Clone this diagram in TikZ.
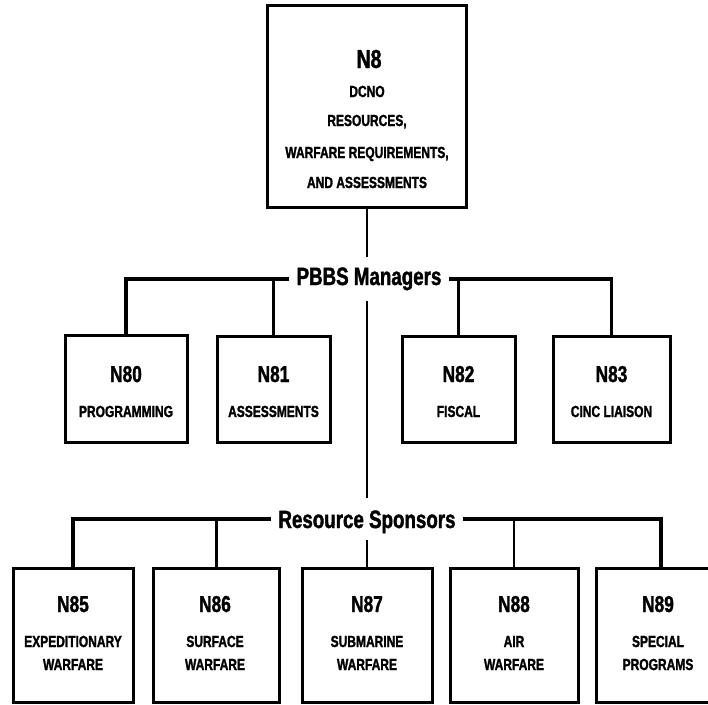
\documentclass[tikz,border=0pt]{standalone}
\usepackage{fontspec}
\newfontfamily\cf{Liberation Sans}[FakeStretch=0.75, BoldFeatures={FakeBold=1.5}]
\begin{document}
\begin{tikzpicture}[x=1pt,y=-1pt,
  box/.style={draw=black, line width=3pt, fill=white, inner sep=0pt},
  bar/.style={line width=3.5pt},
  drop/.style={line width=2.4pt},
  hd/.style={anchor=base, inner sep=0pt, font={\cf\bfseries\fontsize{23pt}{23pt}\selectfont}},
  sm/.style={anchor=base, inner sep=0pt, font={\cf\bfseries\fontsize{16pt}{16pt}\selectfont}},
  ttl/.style={fill=white, inner xsep=7pt, text height=18pt, font={\cf\bfseries\fontsize{25pt}{25pt}\selectfont}}
]
\useasboundingbox (0,0) rectangle (708,704);
\fill[white] (0,0) rectangle (708,704);
\clip (0,0) rectangle (708,704);

% boxes
\node[box, minimum width=199pt, minimum height=202pt] (top) at (367,106) {};
\node[box, minimum width=122pt, minimum height=107pt] (n80) at (126,388.5) {};
\node[box, minimum width=113pt, minimum height=106pt] (n81) at (273.5,389) {};
\node[box, minimum width=113pt, minimum height=106pt] (n82) at (458.5,389) {};
\node[box, minimum width=117pt, minimum height=106pt] (n83) at (611.5,389) {};
\node[box, minimum width=120pt, minimum height=134pt] (n85) at (73,635) {};
\node[box, minimum width=126pt, minimum height=134pt] (n86) at (216.5,635) {};
\node[box, minimum width=130pt, minimum height=134pt] (n87) at (367,635) {};
\node[box, minimum width=128pt, minimum height=134pt] (n88) at (514,635) {};
\node[box, minimum width=130pt, minimum height=134pt] (n89) at (661,635) {};

% central trunk (covered by the title labels)
\draw[drop] (top.south) -- (n87.north);

% titles
\node[ttl, text depth=6pt, inner ysep=10pt] (pbbs) at (369,279) {PBBS Managers};
\node[ttl, text depth=0pt, inner ysep=12pt] (rs) at (367,519) {Resource Sponsors};

% connectors
\draw[bar] (n80.north) |- (pbbs.west);
\draw[bar] (n83.north) |- (pbbs.east);
\draw[drop] (n81.north) -- (n81.north |- pbbs.center);
\draw[drop] (n82.north) -- (n82.north |- pbbs.center);
\draw[bar] (n85.north) |- (rs.west);
\draw[bar] (n89.north) |- (rs.east);
\draw[drop] (n86.north) -- (n86.north |- rs.center);
\draw[drop] (n88.north) -- (n88.north |- rs.center);

% texts
\node[hd, font={\cf\bfseries\fontsize{26pt}{26pt}\selectfont}] (t8) at (369,68) {N8};
\node[sm] (t8a) at (367,97) {DCNO};
\node[sm] (t8b) at (367,126) {RESOURCES,};
\node[sm] (t8c) at (367,158) {WARFARE REQUIREMENTS,};
\node[sm] (t8d) at (367,188) {AND ASSESSMENTS};

\node[hd] (t80) at (126,382) {N80};
\node[sm] (t80a) at (126,417) {PROGRAMMING};
\node[hd] (t81) at (273.5,382) {N81};
\node[sm] (t81a) at (273.5,417) {ASSESSMENTS};
\node[hd] (t82) at (458.5,382) {N82};
\node[sm] (t82a) at (458.5,417) {FISCAL};
\node[hd] (t83) at (611.5,382) {N83};
\node[sm] (t83a) at (611.5,417) {CINC LIAISON};

\node[hd] (t85) at (73,612) {N85};
\node[sm] (t85a) at (73,647) {EXPEDITIONARY};
\node[sm] (t85b) at (73,670) {WARFARE};
\node[hd] (t86) at (215,612) {N86};
\node[sm] (t86a) at (215,647) {SURFACE};
\node[sm] (t86b) at (215,670) {WARFARE};
\node[hd] (t87) at (367,612) {N87};
\node[sm] (t87a) at (367,647) {SUBMARINE};
\node[sm] (t87b) at (367,670) {WARFARE};
\node[hd] (t88) at (514,612) {N88};
\node[sm] (t88a) at (514,647) {AIR};
\node[sm] (t88b) at (514,670) {WARFARE};
\node[hd] (t89) at (658,612) {N89};
\node[sm] (t89a) at (658,647) {SPECIAL};
\node[sm] (t89b) at (658,670) {PROGRAMS};
\end{tikzpicture}
\end{document}
